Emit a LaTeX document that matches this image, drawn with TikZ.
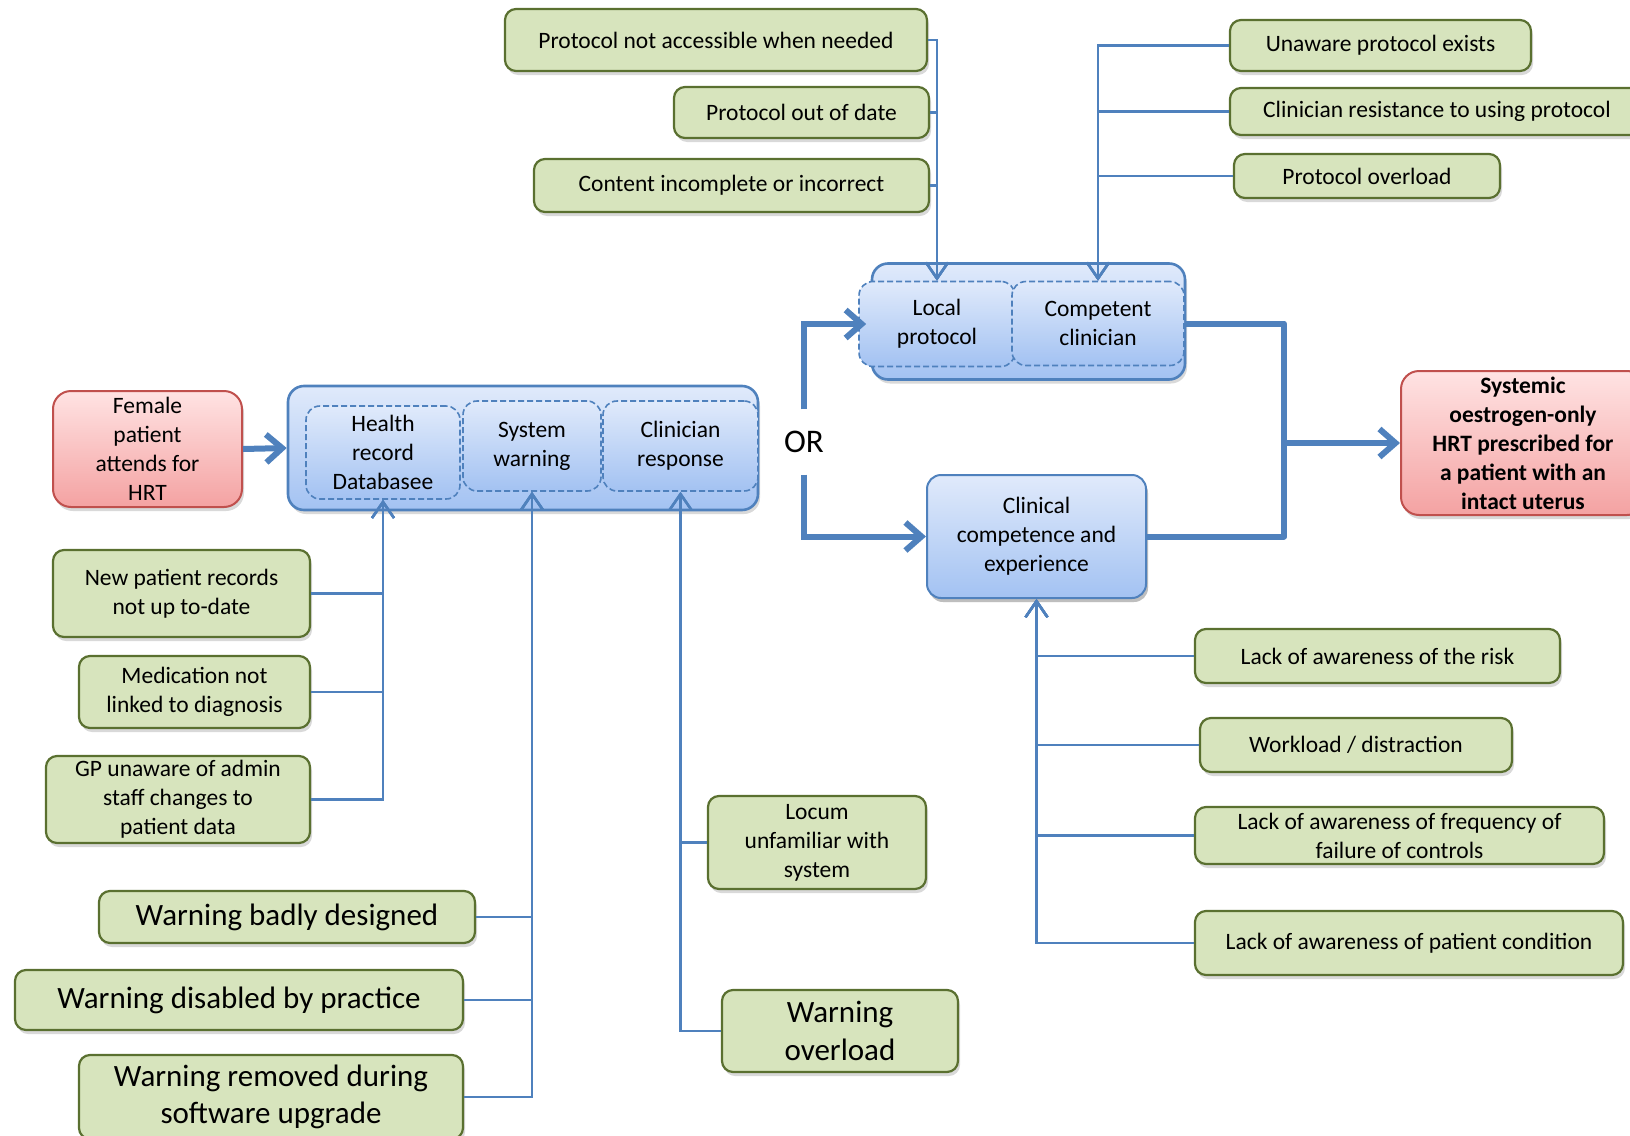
\documentclass[tikz,border=0pt]{standalone}
\usepackage{fontspec}
\setmainfont{Carlito}
\usepackage{tikz}
\usetikzlibrary{arrows.meta, positioning, shadows}

\definecolor{causefill}{HTML}{D7E4BD}
\definecolor{causeline}{HTML}{5A7030}
\definecolor{flowblue}{HTML}{4F81BD}
\definecolor{bluetop}{HTML}{E0EAFB}
\definecolor{bluebot}{HTML}{A3C2F2}
\definecolor{redtop}{HTML}{FFE3E3}
\definecolor{redbot}{HTML}{F4A2A2}
\definecolor{redline}{HTML}{C0504D}

\newcommand\smallfs{\fontsize{23.5}{29}\selectfont}
\newcommand\bigfs{\fontsize{31}{37.5}\selectfont}

\begin{document}
\begin{tikzpicture}[x=1pt, y=-1pt,
    boxshadow/.style={drop shadow={opacity=0.3, shadow xshift=2pt, shadow yshift=-4pt}},
    cause/.style={draw=causeline, fill=causefill, line width=2.2pt, rounded corners=11pt, align=center, font=\smallfs, inner sep=2pt, boxshadow},
    bigcause/.style={cause, font=\bigfs},
    group/.style={draw=flowblue, line width=2.6pt, rounded corners=16pt, top color=bluetop, bottom color=bluebot, boxshadow},
    part/.style={draw=flowblue, line width=1.6pt, dash pattern=on 6pt off 3pt, rounded corners=14pt, top color=bluetop, bottom color=bluebot, align=center, font=\smallfs, inner sep=2pt},
    event/.style={draw=redline, line width=2pt, rounded corners=18pt, top color=redtop, bottom color=redbot, align=center, font=\smallfs, inner sep=2pt, boxshadow},
    feed/.style={draw=flowblue, line width=2.5pt, -{Straight Barb[length=16pt, width=22pt]}},
    flow/.style={draw=flowblue, line width=6pt, -{Straight Barb[length=16pt, width=28pt]}},
    joinline/.style={draw=flowblue, line width=6pt, line join=round}
]
    \clip (0,0) rectangle (1630,1135);

    % Causes feeding the local protocol
    \node[cause, minimum width=422, minimum height=62] (pa) at (716,40) {Protocol not accessible when needed};
    \node[cause, minimum width=255, minimum height=51] (pd) at (801.5,112.5) {Protocol out of date};
    \node[cause, minimum width=395, minimum height=53] (ci) at (731.5,185.5) {Content incomplete or incorrect};

    % Causes feeding the competent clinician
    \node[cause, minimum width=301, minimum height=51] (ua) at (1380.5,45.5) {Unaware protocol exists};
    \node[cause, minimum width=414, minimum height=47] (cr) at (1437,111.5) {Clinician resistance to using protocol};
    \node[cause, minimum width=266, minimum height=44] (po) at (1367,176) {Protocol overload};

    % Protocol barrier
    \node[group, minimum width=313, minimum height=116] (pgrp) at (1028.5,321.5) {};
    \node[part, minimum width=156, minimum height=85] (lp) at (937,324) {Local\\protocol};
    \node[part, minimum width=172, minimum height=84] (cc) at (1098,323.5) {Competent\\clinician};

    % Start event and system barrier
    \node[event, minimum width=189, minimum height=116] (fem) at (147.5,449) {Female\\patient\\attends for\\HRT};
    \node[group, minimum width=470, minimum height=124] (main) at (523,448) {};
    \node[part, minimum width=154, minimum height=93] (hr) at (383,452.5) {Health\\record\\Databasee};
    \node[part, minimum width=138, minimum height=90] (sw) at (532,446) {System\\warning};
    \node[part, minimum width=155, minimum height=90] (cresp) at (680.5,446) {Clinician\\response};
    \node[fill=white, minimum width=84, minimum height=65, font=\fontsize{33}{40}\selectfont] (orl) at (804,442) {OR};

    % Clinical barrier and outcome
    \node[group, part, solid, line width=2pt, minimum width=219, minimum height=123, boxshadow] (clin) at (1036.5,536.5) {Clinical\\competence and\\experience};
    \node[event, font=\smallfs\bfseries, minimum width=244, minimum height=144] (sys) at (1523,443) {Systemic\\oestrogen-only\\HRT prescribed for\\a patient with an\\intact uterus};

    % Health record causes
    \node[cause, minimum width=257, minimum height=87] (np) at (181.5,593.5) {New patient records\\not up to-date};
    \node[cause, minimum width=231, minimum height=72] (ml) at (194.5,692) {Medication not\\linked to diagnosis};
    \node[cause, minimum width=264, minimum height=87] (gp) at (178,799.5) {GP unaware of admin\\staff changes to\\patient data};

    % System warning causes
    \node[bigcause, minimum width=376, minimum height=52] (wb) at (287,917) {Warning badly designed};
    \node[bigcause, minimum width=448, minimum height=60] (wd) at (239,1000) {Warning disabled by practice};
    \node[bigcause, minimum width=384, minimum height=84] (wr) at (271,1097) {Warning removed during\\software upgrade};

    % Clinician response causes
    \node[cause, minimum width=218, minimum height=93] (lo) at (817,842.5) {Locum\\unfamiliar with\\system};
    \node[bigcause, minimum width=236, minimum height=82] (wo) at (840,1031) {Warning\\overload};

    % Clinical competence causes
    \node[cause, minimum width=365, minimum height=54] (lr) at (1377.5,656) {Lack of awareness of the risk};
    \node[cause, minimum width=312, minimum height=54] (wl) at (1356,745) {Workload / distraction};
    \node[cause, minimum width=409, minimum height=57] (lf) at (1399.5,835.5) {Lack of awareness of frequency of\\failure of controls};
    \node[cause, minimum width=428, minimum height=64] (lc) at (1409,943) {Lack of awareness of patient condition};

    \coordinate (jn) at (1284,443);

    % Thin feeders
    \draw[feed] (pa.east) -| (lp.north);
    \draw[feed] (pd.east) -| (lp.north);
    \draw[feed] (ci.east) -| (lp.north);
    \draw[feed] (ua.west) -| (cc.north);
    \draw[feed] (cr.west) -| (cc.north);
    \draw[feed] (po.west) -| (cc.north);
    \draw[feed] (np.east) -| (hr.south);
    \draw[feed] (ml.east) -| (hr.south);
    \draw[feed] (gp.east) -| (hr.south);
    \draw[feed] (wb.east) -| (sw.south);
    \draw[feed] (wd.east) -| (sw.south);
    \draw[feed] (wr.east) -| (sw.south);
    \draw[feed] (lo.west) -| (cresp.south);
    \draw[feed] (wo.west) -| (cresp.south);
    \draw[feed] (lr.west) -| (clin.south);
    \draw[feed] (wl.west) -| (clin.south);
    \draw[feed] (lf.west) -| (clin.south);
    \draw[feed] (lc.west) -| (clin.south);

    % Main flow
    \draw[flow] (fem.east) -- (main.west);
    \draw[flow, shorten >=-8pt] (orl.north) |- (lp.west);
    \draw[flow] (orl.south) |- (clin.west);
    \draw[joinline] (cc.east) -| (jn) |- (clin.east);
    \draw[flow] (jn) -- (sys.west);
\end{tikzpicture}
\end{document}
